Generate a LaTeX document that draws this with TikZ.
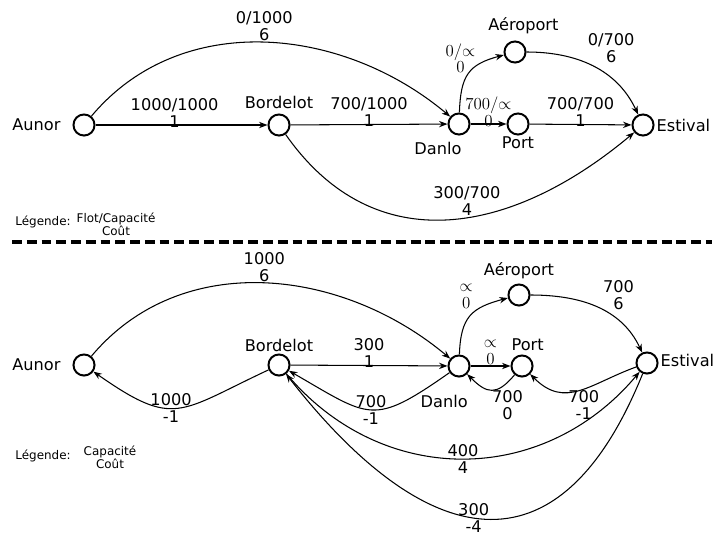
\documentclass[tikz,border=0pt]{standalone}
\usepackage{fontspec}
\setmainfont{DejaVu Sans}
\usepackage{amsmath, amssymb}
\usetikzlibrary{arrows.meta}

\begin{document}
\begin{tikzpicture}[
  x=0.025cm, y=-0.025cm,
  every node/.style={font=\fontsize{11.5}{12}\selectfont},
  vertex/.style={circle, draw, line width=1.4pt, minimum size=15pt, inner sep=0pt},
  arrow/.style={-{Stealth[length=6pt, width=4.5pt]}, line width=0.75pt},
  lbl/.style={align=center, inner sep=1pt},
  legend/.style={align=center, inner sep=0pt, font=\fontsize{8.5}{9}\selectfont}
]
\useasboundingbox (0,0) rectangle (716,539);

% flot
\node[vertex, label={[label distance=5pt]left:Aunor}] (AU1) at (84,125) {};
\node[vertex, label={[label distance=0pt]above:Bordelot}] (BO1) at (279,125) {};
\node[vertex, label={[label distance=1pt, xshift=-15pt]below:Danlo}] (DA1) at (459,124) {};
\node[vertex, label={[label distance=-3pt]below:Port}] (PO1) at (518,124) {};
\node[vertex, label={[label distance=1pt, xshift=6pt]above:Aéroport}] (AE1) at (515,52) {};
\node[vertex, label={[label distance=-2pt]right:Estival}] (ES1) at (643,125) {};

\draw[arrow] (AU1) -- node[lbl, above, pos=0.46, yshift=-3pt] {1000/1000\\1} (BO1);
\draw[arrow] (AU1) to[out=50, in=140] node[lbl, above] {0/1000\\6} (DA1);
\draw[arrow] (BO1) -- node[lbl, above, yshift=-3pt] {700/1000\\1} (DA1);
\draw[arrow] (DA1) to[out=88, in=195, looseness=1.3] node[lbl, above left, inner sep=0pt, xshift=5pt] {$0/{\propto}$\\$0$} (AE1);
\draw[arrow] (DA1) -- node[lbl, above, yshift=-3pt] {$700/{\propto}$\\$0$} (PO1);
\draw[arrow] (PO1) -- node[lbl, above, yshift=-3pt] {700/700\\1} (ES1);
\draw[arrow] (AE1) to[out=0, in=115] node[lbl, above right, pos=0.45, inner sep=0pt] {0/700\\6} (ES1);
\draw[arrow] (BO1) to[out=-55, in=-140, looseness=1.15] node[lbl, above, pos=0.55] {300/700\\4} (ES1);

\node[legend] (LG1) at (43,222) {Légende:};
\node[legend] (KEY1) at (116,224) {Flot/Capacité\\Coût};

% separation
\coordinate (SEPL) at (12,242);
\coordinate (SEPR) at (712,242);
\draw[line width=2.2pt, dash pattern=on 7pt off 3.5pt] (SEPL) -- (SEPR);

% residuel
\node[vertex, label={[label distance=5pt]left:Aunor}] (AU2) at (84,365) {};
\node[vertex, label={[label distance=-2pt]above:Bordelot}] (BO2) at (279,365) {};
\node[vertex, label={[label distance=9pt, xshift=-10.5pt]below:Danlo}] (DA2) at (459,366) {};
\node[vertex, label={[label distance=-1pt, xshift=4pt]above:Port}] (PO2) at (522,366) {};
\node[vertex, label={[label distance=0pt]above:Aéroport}] (AE2) at (519,295) {};
\node[vertex, label={[label distance=-2pt, yshift=2pt]right:Estival}] (ES2) at (647,363) {};

\draw[arrow] (AU2) to[out=50, in=140] node[lbl, above] {1000\\6} (DA2);
\draw[arrow] (BO2) to[out=-155, in=-35, looseness=1.45] node[lbl, pos=0.55] {1000\\-1} (AU2);
\draw[arrow] (BO2) -- node[lbl, above, yshift=-3pt] {300\\1} (DA2);
\draw[arrow] (DA2) to[out=-145, in=-30, looseness=1.5] node[lbl] {700\\-1} (BO2);
\draw[arrow] (DA2) to[out=88, in=195, looseness=1.3] node[lbl, above left, inner sep=0pt, xshift=2pt, yshift=5pt] {$\propto$\\$0$} (AE2);
\draw[arrow] (DA2) -- node[lbl, above] {$\propto$\\$0$} (PO2);
\draw[arrow] (PO2) to[out=-130, in=-45, looseness=1.5] node[lbl, below right, inner sep=0pt] {700\\0} (DA2);
\draw[arrow] (ES2) to[out=-160, in=-45, looseness=1.2] node[lbl, below, pos=0.45] {700\\-1} (PO2);
\draw[arrow] (AE2) to[out=0, in=115] node[lbl, above right, pos=0.55, inner sep=0pt] {700\\6} (ES2);
\draw[arrow] (BO2) to[out=-50, in=-130, looseness=1.08] node[lbl] {400\\4} (ES2);
\draw[arrow] (ES2) to[out=-112, in=-52, looseness=1.62] node[lbl, pos=0.53] {300\\-4} (BO2);

\node[legend] (LG2) at (43,456) {Légende:};
\node[legend] (KEY2) at (110,457) {Capacité\\Coût};
\end{tikzpicture}
\end{document}
